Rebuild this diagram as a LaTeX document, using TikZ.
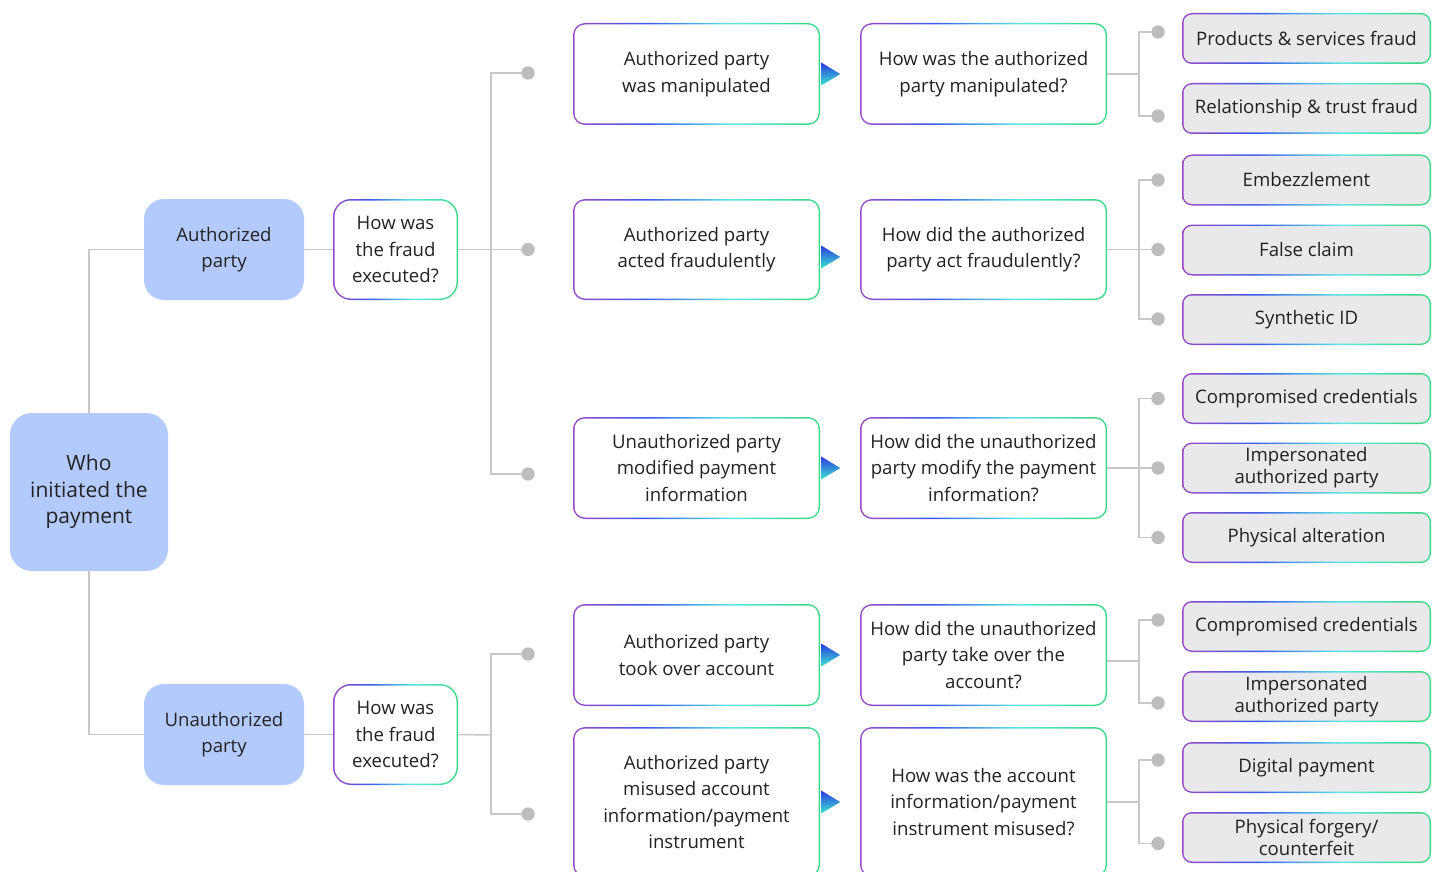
\documentclass[tikz,border=0pt]{standalone}
\usepackage{fontspec}
\setmainfont{Open Sans}
\usetikzlibrary{calc}
\definecolor{txt}{HTML}{222222}
\definecolor{rootblue}{HTML}{B3CAFC}
\definecolor{leafgray}{HTML}{E9E8EA}
\definecolor{linegray}{HTML}{C8C8C8}
\definecolor{dotgray}{HTML}{BDBDBD}
\definecolor{bp}{HTML}{9B48C6}
\definecolor{bb}{HTML}{3B5BEA}
\definecolor{bc}{HTML}{5CE6E6}
\definecolor{bg}{HTML}{3AD98A}
\definecolor{tb}{HTML}{2A3AE0}
\definecolor{tc}{HTML}{3CE6D0}
\pgfdeclarehorizontalshading{brd}{100bp}{color(0bp)=(bp); color(25bp)=(bp); color(40bp)=(bb); color(57bp)=(bc); color(72bp)=(bg); color(100bp)=(bg)}
\newcommand\boxfont{\fontsize{18.6}{26.5}\selectfont}
\newcommand\leaffont{\fontsize{18.6}{22}\selectfont}
\newcommand\rootfont{\fontsize{21}{26.5}\selectfont}
\tikzset{
  conn/.style={draw=linegray, line width=1.5pt},
  dotnode/.style={circle, fill=dotgray, minimum size=13pt, inner sep=0pt},
  gbox/.style={shade, shading=brd, rounded corners=#1, inner sep=0pt, align=center, text=txt,
    path picture={\fill[white, rounded corners=#1-1.5pt] ([shift={(1.5pt,1.5pt)}]path picture bounding box.south west) rectangle ([shift={(-1.5pt,-1.5pt)}]path picture bounding box.north east);}},
  midbox/.style={gbox=12pt, minimum width=247pt, font=\boxfont},
  leafbox/.style={shade, shading=brd, rounded corners=10pt, inner sep=0pt, align=center, text=txt,
    minimum width=249pt, minimum height=51pt, font=\leaffont,
    path picture={\fill[leafgray, rounded corners=8.5pt] ([shift={(1.5pt,1.5pt)}]path picture bounding box.south west) rectangle ([shift={(-1.5pt,-1.5pt)}]path picture bounding box.north east);}},
  bluebox/.style={fill=rootblue, rounded corners=20pt, inner sep=0pt, align=center, text=txt},
  tri/.style={top color=tb, bottom color=tc, draw=none}
}
\begin{document}
\begin{tikzpicture}[x=1pt,y=-1pt]
\useasboundingbox (0,0) rectangle (1438,872);
\clip (0,0) rectangle (1438,872);
\fill[white] (0,0) rectangle (1438,872);

% root and party nodes
\node[bluebox, rounded corners=22pt, minimum width=158pt, minimum height=158pt, font=\rootfont] (root) at (89,492) {Who\\initiated the\\payment};
\node[bluebox, minimum width=160pt, minimum height=101pt, font=\boxfont] (ap) at (224,249.5) {Authorized\\party};
\node[bluebox, minimum width=160pt, minimum height=101pt, font=\boxfont] (up) at (224,734.5) {Unauthorized\\party};
\node[gbox=18pt, minimum width=125pt, minimum height=101pt, font=\boxfont] (qa) at (395.5,249.5) {How was\\the fraud\\executed?};
\node[gbox=18pt, minimum width=125pt, minimum height=101pt, font=\boxfont] (qu) at (395.5,734.5) {How was\\the fraud\\executed?};

% middle boxes
\node[midbox, minimum height=102pt] (m1) at (696.5,74) {Authorized party\\was manipulated};
\node[midbox, minimum height=101pt] (m2) at (696.5,249.5) {Authorized party\\acted fraudulently};
\node[midbox, minimum height=102pt] (m3) at (696.5,468) {Unauthorized party\\modified payment\\information};
\node[midbox, minimum height=102pt] (m4) at (696.5,655) {Authorized party\\took over account};
\node[midbox, minimum height=150pt] (m5) at (696.5,802) {Authorized party\\misused account\\information/payment\\instrument};

% question boxes
\node[midbox, minimum height=102pt] (n1) at (983.5,74) {How was the authorized\\party manipulated?};
\node[midbox, minimum height=101pt] (n2) at (983.5,249.5) {How did the authorized\\party act fraudulently?};
\node[midbox, minimum height=102pt] (n3) at (983.5,468) {How did the unauthorized\\party modify the payment\\information?};
\node[midbox, minimum height=102pt] (n4) at (983.5,655) {How did the unauthorized\\party take over the\\account?};
\node[midbox, minimum height=150pt] (n5) at (983.5,802) {How was the account\\information/payment\\instrument misused?};

% arrows
\foreach \m/\dy in {m1/0, m2/7.5, m3/0, m4/0, m5/0}{
  \shade[tri] ($(\m.east)+(1,\dy-11.5)$) -- ($(\m.east)+(1,\dy+11.5)$) -- ($(\m.east)+(20,\dy)$) -- cycle;
}

% leaves
\node[leafbox] (l1) at (1306.5,38.5) {Products \& services fraud};
\node[leafbox] (l2) at (1306.5,108.5) {Relationship \& trust fraud};
\node[leafbox] (l3) at (1306.5,180) {Embezzlement};
\node[leafbox] (l4) at (1306.5,250) {False claim};
\node[leafbox] (l5) at (1306.5,319.5) {Synthetic ID};
\node[leafbox] (l6) at (1306.5,398.5) {Compromised credentials};
\node[leafbox] (l7) at (1306.5,468) {Impersonated\\authorized party};
\node[leafbox] (l8) at (1306.5,537.5) {Physical alteration};
\node[leafbox] (l9) at (1306.5,626.5) {Compromised credentials};
\node[leafbox] (l10) at (1306.5,696.5) {Impersonated\\authorized party};
\node[leafbox] (l11) at (1306.5,767.5) {Digital payment};
\node[leafbox] (l12) at (1306.5,837.5) {Physical forgery/\\counterfeit};

% root connectors
\draw[conn] (root.north) |- (ap.west);
\draw[conn] (root.south) |- (up.west);
\draw[conn] (ap.east) -- (qa.west);
\draw[conn] (up.east) -- (qu.west);

% left branch coordinates
\coordinate (ba) at (491,249.5);
\coordinate (bu) at (491,735);
\draw[conn] (qa.east) -- (ba);
\draw[conn] (qu.east) -- (bu);
\node[dotnode] (da1) at (528,73) {};
\node[dotnode] (da2) at (528,249.5) {};
\node[dotnode] (da3) at (528,474) {};
\node[dotnode] (du1) at (528,654) {};
\node[dotnode] (du2) at (528,814) {};
\draw[conn] (da1.center) -| (ba);
\draw[conn] (da2.center) -- (ba);
\draw[conn] (da3.center) -| (ba);
\draw[conn] (du1.center) -| (bu);
\draw[conn] (du2.center) -| (bu);
\foreach \d in {da1,da2,da3,du1,du2}{\fill[dotgray] (\d) circle (6.5pt);}

% right branches
\coordinate (c1) at (1139,74);
\coordinate (c2) at (1139,249.5);
\coordinate (c3) at (1139,468);
\coordinate (c4) at (1139,661);
\coordinate (c5) at (1139,802);
\draw[conn] (n1.east) -- (c1);
\draw[conn] (n2.east) -- (c2);
\draw[conn] (n3.east) -- (c3);
\draw[conn] ([yshift=-6pt]n4.east) -- (c4);
\draw[conn] (n5.east) -- (c5);
\node[dotnode] (e1) at (1158,32) {};
\node[dotnode] (e2) at (1158,116) {};
\node[dotnode] (e3) at (1158,180) {};
\node[dotnode] (e4) at (1158,249.5) {};
\node[dotnode] (e5) at (1158,319) {};
\node[dotnode] (e6) at (1158,398.5) {};
\node[dotnode] (e7) at (1158,468) {};
\node[dotnode] (e8) at (1158,537.5) {};
\node[dotnode] (e9) at (1158,620) {};
\node[dotnode] (e10) at (1158,703) {};
\node[dotnode] (e11) at (1158,760) {};
\node[dotnode] (e12) at (1158,843.5) {};
\draw[conn] (e1.center) -| (c1);
\draw[conn] (e2.center) -| (c1);
\draw[conn] (e3.center) -| (c2);
\draw[conn] (e4.center) -- (c2);
\draw[conn] (e5.center) -| (c2);
\draw[conn] (e6.center) -| (c3);
\draw[conn] (e7.center) -- (c3);
\draw[conn] (e8.center) -| (c3);
\draw[conn] (e9.center) -| (c4);
\draw[conn] (e10.center) -| (c4);
\draw[conn] (e11.center) -| (c5);
\draw[conn] (e12.center) -| (c5);
\foreach \d in {e1,e2,e3,e4,e5,e6,e7,e8,e9,e10,e11,e12}{\fill[dotgray] (\d) circle (6.5pt);}
\end{tikzpicture}
\end{document}
